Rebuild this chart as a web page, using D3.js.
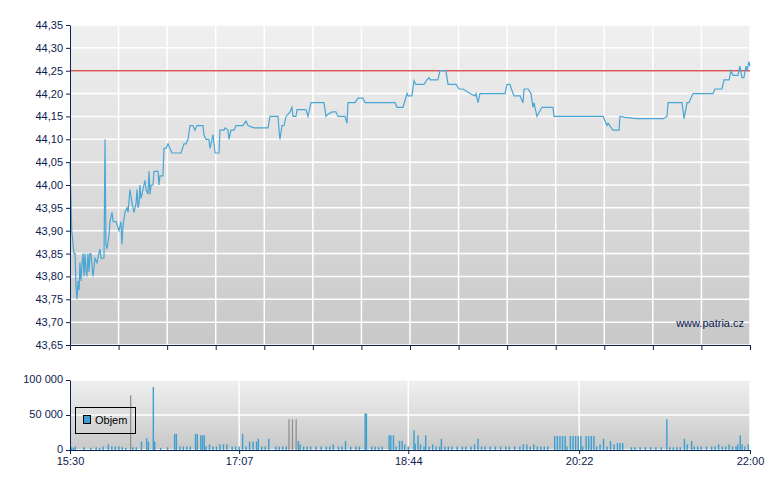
<!DOCTYPE html>
<html><head><meta charset="utf-8">
<script src="https://cdn.jsdelivr.net/npm/d3@7"></script>
<style>body{margin:0;background:#fff}text{font-family:"Liberation Sans",Arial,sans-serif}</style>
</head><body><svg id="c" width="780" height="490"></svg>
<script>
// price: [minutes after 15:30, price]
const price = [[0,44.05],[1,43.90],[2.3,43.85],[2.9,43.85],[3.4,43.78],[4,43.75],[4.6,43.79],[5.2,43.77],[5.7,43.83],[6.3,43.79],[6.9,43.83],[7.5,43.85],[8,43.80],[8.6,43.85],[9.2,43.81],[9.7,43.80],[10.3,43.85],[10.9,43.81],[11.5,43.85],[12,43.85],[13.2,43.80],[14.3,43.84],[15.5,43.83],[16,43.84],[17.2,43.86],[17.8,43.84],[19.5,43.84],[20.1,44.10],[20.6,43.87],[21.2,43.86],[22.4,43.89],[22.9,43.92],[24.1,43.94],[24.7,43.92],[26.4,43.92],[28.1,43.90],[29.2,43.92],[29.8,43.87],[30.4,43.91],[31.5,43.94],[32.7,43.95],[33.3,43.94],[34.4,43.99],[35.6,43.96],[36.7,43.94],[37.9,43.96],[38.4,43.99],[39,43.95],[39.6,43.96],[40.1,44.00],[40.7,43.97],[41.3,43.98],[42.4,44.00],[43,44.01],[43.6,43.99],[44.7,43.98],[45.3,44.03],[45.9,43.98],[46.5,44.00],[47.6,44.00],[48.2,44.03],[50.5,44.03],[51,44.00],[51.6,44.02],[53.3,44.02],[53.9,44.08],[55.1,44.08],[56.2,44.09],[57.4,44.08],[58.5,44.07],[63.7,44.07],[65.4,44.09],[66.5,44.09],[67.7,44.10],[68.8,44.13],[70.5,44.13],[71.7,44.12],[72.8,44.13],[76.3,44.13],[76.8,44.11],[78,44.10],[79.7,44.10],[80.3,44.08],[81.4,44.10],[82,44.11],[83.2,44.07],[85.5,44.07],[86,44.12],[88.3,44.12],[88.9,44.125],[90.6,44.12],[91.2,44.10],[92.3,44.12],[94,44.12],[95.2,44.13],[99.2,44.13],[100.9,44.14],[102.1,44.13],[105.5,44.125],[113.6,44.125],[114.7,44.15],[119.3,44.15],[119.9,44.12],[120.4,44.10],[121.6,44.13],[122.7,44.13],[123.9,44.15],[126.2,44.16],[127.3,44.17],[127.9,44.15],[129.6,44.15],[130.2,44.165],[135.3,44.165],[136.5,44.15],[138.2,44.18],[145.7,44.18],[146.8,44.15],[148,44.155],[150.3,44.16],[152.5,44.16],[153.7,44.15],[157.7,44.15],[158.9,44.135],[159.4,44.18],[163.4,44.18],[165.2,44.19],[168,44.19],[169.2,44.18],[183.5,44.18],[186.4,44.18],[187.5,44.17],[191,44.17],[193.3,44.20],[193.9,44.195],[196.1,44.195],[197.3,44.228],[198.4,44.22],[203,44.22],[204.7,44.23],[205.9,44.235],[206.5,44.23],[211,44.23],[212.2,44.25],[215.6,44.25],[216.8,44.22],[221.4,44.22],[223.1,44.21],[225.4,44.21],[229.4,44.20],[232.3,44.195],[232.8,44.20],[234,44.18],[235.1,44.20],[249.5,44.20],[250.6,44.22],[252.3,44.22],[254.6,44.195],[258.1,44.195],[259.8,44.18],[260.4,44.21],[262.7,44.21],[264.4,44.20],[265.5,44.17],[266.1,44.18],[267.8,44.15],[270.7,44.17],[277,44.17],[277.6,44.15],[305.7,44.15],[308,44.13],[308.6,44.135],[311.4,44.12],[314.9,44.12],[315.4,44.15],[318.3,44.148],[325.2,44.145],[340.1,44.145],[342.4,44.15],[343,44.18],[351,44.18],[352.2,44.145],[353.9,44.18],[355,44.18],[357.3,44.20],[368.8,44.20],[369.9,44.21],[373.9,44.21],[375.1,44.23],[378,44.23],[379.1,44.25],[380.3,44.24],[383.1,44.24],[384.2,44.26],[385.4,44.235],[386.5,44.235],[387.7,44.26],[388.3,44.25],[389.4,44.27],[390,44.26]];
const prevClose = 44.25;
// volume: [minutes after 15:30, shares]
const volume = [[1,4000],[2,3000],[3,5000],[8,4000],[12,3000],[15,4000],[17,3000],[19,5000],[22,8000],[24,5000],[26,5000],[28,5000],[30,4000],[32,3000],[36,4000],[38,4000],[41,12000],[44,17000],[45,12000],[47.8,90000],[48.6,12000],[52,3000],[56,4000],[60,23000],[61,23000],[63,5000],[65,5000],[67,5000],[69,5000],[72,23000],[73,23000],[75,21000],[76,21000],[77,21000],[78,5000],[80,8000],[82,5000],[84,5000],[86,8000],[88,8000],[90,8000],[93,5000],[95,5000],[97,5000],[99,23000],[101,5000],[103,12000],[105,12000],[107,12000],[108,16000],[110,5000],[112,5000],[114,16000],[118,5000],[120,5000],[122,5000],[124,5000],[131,13000],[132,8000],[134,5000],[136,5000],[138,5000],[141,5000],[144,5000],[147,5000],[149,5000],[151,8000],[154,5000],[156,5000],[158,13000],[161,5000],[164,5000],[166,5000],[169.3,52000],[170,52000],[173,5000],[175,5000],[177,4000],[179,5000],[183,21000],[184,21000],[185.5,21000],[187,5000],[189,13000],[190.5,13000],[192,8000],[194,5000],[197.3,28000],[198,9000],[199.6,21000],[201,8000],[203,5000],[204,21000],[206,5000],[208,8000],[210,5000],[212,5000],[213,16000],[215,5000],[217,5000],[219,5000],[222,5000],[225,5000],[227,5000],[230,5000],[232,8000],[234,16000],[236,5000],[238,5000],[241,5000],[244,5000],[247,5000],[250,5000],[252,5000],[255,5000],[258,5000],[260,8000],[262,8000],[264,5000],[266,8000],[268,5000],[270,5000],[272,5000],[274,5000],[278,20000],[279.5,20000],[281,20000],[282.5,20000],[284,20000],[285,5000],[287,20000],[288.5,20000],[290,20000],[291.5,20000],[293,20000],[294,5000],[296,20000],[297.5,20000],[299,20000],[300.5,20000],[302,5000],[304,8000],[306,16000],[308,5000],[310,13000],[312,8000],[314,10000],[315.5,10000],[317,10000],[322,4000],[324,4000],[327,4000],[330,4000],[333,4000],[336,4000],[339,4000],[342.3,44000],[344,4000],[346,4000],[348,4000],[350,4000],[352.4,16000],[354,8000],[356.5,13000],[358,5000],[360,5000],[362,5000],[365,5000],[368,5000],[370,5000],[372,8000],[374,5000],[376,5000],[378,8000],[380,5000],[382,5000],[383,8000],[384.4,21000],[385.5,8000],[387,5000],[389,8000]];
const grayVolume = [[34.8,78000],[125.6,44000],[127.6,44000],[129.7,44000]];
const yTicks = d3.range(43.65, 44.351, 0.05);
const volTicks = [0, 50000, 100000];
const xTickLabels = ["15:30","17:07","18:44","20:22","22:00"];
const xLabelMins = [0, 97, 194, 292, 390];

const svg = d3.select("#c");
const L = 70, R = 750, T = 25, B = 345, VT = 380, VB = 450;
const fmt = d => d3.format(".2f")(d).replace(".", ",");
const vfmt = d => d3.format(",")(d).replace(/,/g, " ");
const x = d3.scaleLinear().domain([0, 390]).range([L, R]);
const y = d3.scaleLinear().domain([43.65, 44.35]).range([B, T]);
const yv = d3.scaleLinear().domain([0, 100000]).range([VB, VT]);

const defs = svg.append("defs");
const g = defs.append("linearGradient").attr("id", "bg").attr("x1", 0).attr("y1", 0).attr("x2", 0).attr("y2", 1);
g.append("stop").attr("offset", 0).attr("stop-color", "#f0f0f0");
g.append("stop").attr("offset", 1).attr("stop-color", "#c8c8c8");
svg.append("rect").attr("x", L).attr("y", T).attr("width", R - L).attr("height", B - T).attr("fill", "url(#bg)");
svg.append("rect").attr("x", L).attr("y", VT).attr("width", R - L).attr("height", VB - VT).attr("fill", "url(#bg)");

// price grid
const vGrid = d3.range(0, 391, 390 / 14);
svg.append("g").selectAll("line").data(vGrid).join("line")
  .attr("x1", d => x(d)).attr("x2", d => x(d)).attr("y1", T).attr("y2", B)
  .attr("stroke", "#fff").attr("stroke-width", 1.5);
svg.append("g").selectAll("line").data(yTicks).join("line")
  .attr("x1", L).attr("x2", R).attr("y1", d => y(d)).attr("y2", d => y(d))
  .attr("stroke", "#fff").attr("stroke-width", 1.5);
// volume grid
svg.append("g").selectAll("line").data(xLabelMins).join("line")
  .attr("x1", d => x(d)).attr("x2", d => x(d)).attr("y1", VT).attr("y2", VB)
  .attr("stroke", "#fff").attr("stroke-width", 1.5);
svg.append("g").selectAll("line").data(volTicks).join("line")
  .attr("x1", L).attr("x2", R).attr("y1", d => yv(d)).attr("y2", d => yv(d))
  .attr("stroke", "#fff").attr("stroke-width", 1.5);

// previous close
svg.append("line").attr("x1", L).attr("x2", R).attr("y1", y(prevClose)).attr("y2", y(prevClose))
  .attr("stroke", "#d9595b").attr("stroke-width", 1.5);

svg.append("path").datum(price)
  .attr("d", d3.line().x(d => x(d[0])).y(d => y(d[1])))
  .attr("fill", "none").attr("stroke", "#4aa6d4").attr("stroke-width", 1.2);

svg.append("g").selectAll("rect").data(volume).join("rect")
  .attr("x", d => x(d[0]) - 0.7).attr("width", 1.4)
  .attr("y", d => yv(d[1])).attr("height", d => VB - yv(d[1])).attr("fill", "#3d9fcf");
svg.append("g").selectAll("rect").data(grayVolume).join("rect")
  .attr("x", d => x(d[0]) - 0.6).attr("width", 1.2)
  .attr("y", d => yv(d[1])).attr("height", d => VB - yv(d[1])).attr("fill", "#8c8c8c");

// axes
const axColor = "#0d2150";
const styleAxis = sel => {
  sel.select(".domain").attr("stroke", axColor);
  sel.selectAll(".tick line").attr("stroke", axColor);
  sel.selectAll("text").attr("fill", axColor).style("font-size", "11px").style("font-family", "Liberation Sans, Arial, sans-serif");
};
svg.append("g").attr("transform", `translate(${L},0)`)
  .call(d3.axisLeft(y).tickValues(yTicks).tickFormat(fmt).tickSize(4).tickSizeOuter(0)).call(styleAxis);
svg.append("g").attr("transform", `translate(0,${B})`)
  .call(d3.axisBottom(x).tickValues(vGrid).tickFormat("").tickSize(5).tickSizeOuter(0)).call(styleAxis);
svg.append("g").attr("transform", `translate(${L},0)`)
  .call(d3.axisLeft(yv).tickValues(volTicks).tickFormat(vfmt).tickSize(4).tickSizeOuter(0)).call(styleAxis)
  .selectAll("text").attr("dy", "0.2em");
svg.append("g").attr("transform", `translate(0,${VB})`)
  .call(d3.axisBottom(x).tickValues(xLabelMins).tickFormat((d, i) => xTickLabels[i]).tickSize(4).tickSizeOuter(0)).call(styleAxis);

svg.append("text").attr("x", 744).attr("y", 327).attr("text-anchor", "end")
  .attr("fill", "#0d2150").style("font-size", "11px").text("www.patria.cz");

// legend
svg.append("rect").attr("x", 75.5).attr("y", 407.5).attr("width", 60).attr("height", 26)
  .attr("fill", "none").attr("stroke", "#000");
svg.append("rect").attr("x", 83.5).attr("y", 415.5).attr("width", 7).attr("height", 8)
  .attr("fill", "#3d9fcf").attr("stroke", "#000");
svg.append("text").attr("x", 95).attr("y", 424).attr("fill", "#000").style("font-size", "11px").text("Objem");
</script></body></html>
